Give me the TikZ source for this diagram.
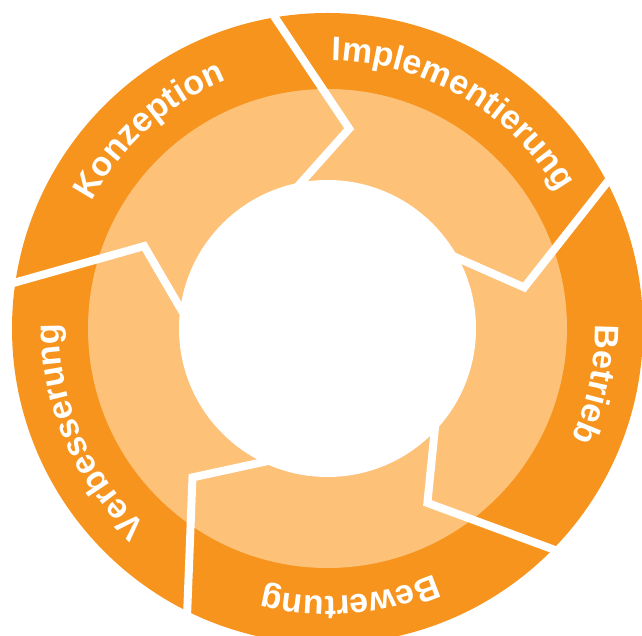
\documentclass[tikz,border=0pt]{standalone}
\usepackage{fontspec}
\setmainfont{Liberation Sans}
\usepackage{xcolor}
\usepackage{tikz}
\usetikzlibrary{decorations.text}
\definecolor{phasedark}{HTML}{F7941E}
\definecolor{phaselight}{HTML}{FDC178}
\newcommand{\phasefont}{\fontsize{34}{36}\selectfont\bfseries}
\tikzstyle{separator} = [draw=white, line width=8pt, line join=miter, shorten <=-14pt, shorten >=-14pt]
\tikzstyle{phasetext} = [decorate, decoration={text along path, text align={fit to path}, text color=white}]

\begin{document}
\begin{tikzpicture}[x=1pt, y=1pt]
    \useasboundingbox (0,0) rectangle (642,636);
    \clip (0,0) rectangle (642,636);
    \begin{scope}[shift={(327.5,307.5)}]
        % rings
        \fill[phasedark] (0,0) circle[radius=315.5pt];
        \fill[phaselight] (0,0) circle[radius=239.5pt];
        \fill[white] (0,0) circle[radius=148.5pt];
        % chevron separators
        \draw[separator] (99.6:315.5pt) -- (83.8:201pt) -- (100.4:148pt);
        \draw[separator] (27.6:315.5pt) -- (11.8:201pt) -- (28.4:148pt);
        \draw[separator] (-44.4:315.5pt) -- (-60.2:201pt) -- (-43.6:148pt);
        \draw[separator] (-116.4:315.5pt) -- (-132.2:201pt) -- (-115.6:148pt);
        \draw[separator] (171.6:315.5pt) -- (155.8:201pt) -- (172.4:148pt);
        % phase names
        \path[phasetext, decoration={text={|\phasefont|Konzeption}}]
            (151.75:268pt) arc[start angle=151.75, end angle=113.25, radius=268pt];
        \path[phasetext, decoration={text={|\phasefont|Implementierung}}]
            (89.1:268pt) arc[start angle=89.1, end angle=31.9, radius=268pt];
        \path[phasetext, decoration={text={|\phasefont|Betrieb}}]
            (0.75:268pt) arc[start angle=0.75, end angle=-23.75, radius=268pt];
        \path[phasetext, decoration={text={|\phasefont|Bewertung}}]
            (-66.4:268pt) arc[start angle=-66.4, end angle=-102.6, radius=268pt];
        \path[phasetext, decoration={text={|\phasefont|Verbesserung}}]
            (227.55:268pt) arc[start angle=227.55, end angle=180.45, radius=268pt];
    \end{scope}
\end{tikzpicture}
\end{document}
